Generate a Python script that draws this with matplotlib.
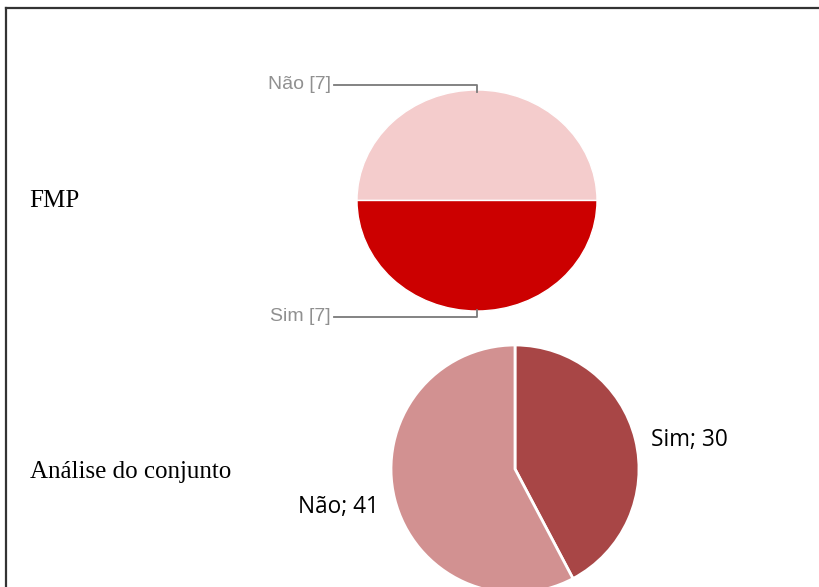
import matplotlib
matplotlib.use("Agg")
import matplotlib.pyplot as plt
from matplotlib.lines import Line2D

W, H = 819, 587

# Data
fmp_labels = ["Não", "Sim"]
fmp_values = [7, 7]
fmp_colors = ["#F4CCCC", "#CC0000"]

conj_labels = ["Sim", "Não"]
conj_values = [30, 41]
conj_colors = ["#A84646", "#D29191"]

row_titles = ["FMP", "Análise do conjunto"]

fig = plt.figure(figsize=(W / 100, H / 100), dpi=100)
fig.patch.set_facecolor("white")

def px_axes(x0, y0, x1, y1):
    return fig.add_axes([x0 / W, 1 - y1 / H, (x1 - x0) / W, (y1 - y0) / H])

# Overlay axes in pixel coordinates
ov = fig.add_axes([0, 0, 1, 1], zorder=5)
ov.set_xlim(0, W)
ov.set_ylim(H, 0)
ov.axis("off")
ov.patch.set_alpha(0)

# Border (top and left)
ov.add_line(Line2D([6, W], [7.5, 7.5], color="#333333", lw=1.6))
ov.add_line(Line2D([6, 6], [7.5, H], color="#333333", lw=1.6))

# Top pie (elliptical)
cx1, cy1, rx1, ry1 = 477, 200.5, 120, 110.5
ax1 = px_axes(cx1 - rx1, cy1 - ry1, cx1 + rx1, cy1 + ry1)
ax1.pie(fmp_values, colors=fmp_colors, startangle=0, counterclock=True,
        radius=1, wedgeprops=dict(edgecolor="white", linewidth=1.0))
ax1.set_xlim(-1, 1)
ax1.set_ylim(-1, 1)
ax1.set_aspect("auto")
ax1.axis("off")

# Leader lines and labels for the top pie
gray_line = "#7a7a7a"
gray_text = "#909090"
for lab, val, side in zip(fmp_labels, fmp_values, [-1, 1]):
    ty = cy1 + side * (ry1 + 5.5)
    edge = cy1 + side * (ry1 - 1.5)
    ov.add_line(Line2D([334, cx1, cx1], [ty, ty, edge], color=gray_line, lw=1.3))
    ov.text(331, ty, f"{lab} [{val}]", ha="right", va="center", color=gray_text,
            fontsize=14, family="Liberation Sans")

# Bottom pie
cx2, cy2, r2 = 515, 469, 124
ax2 = px_axes(cx2 - r2, cy2 - r2, cx2 + r2, cy2 + r2)
ax2.pie(conj_values, colors=conj_colors, startangle=90, counterclock=False,
        radius=1, wedgeprops=dict(edgecolor="white", linewidth=2.0))
ax2.set_xlim(-1, 1)
ax2.set_ylim(-1, 1)
ax2.set_aspect("auto")
ax2.axis("off")

ov.text(689, 440, f"{conj_labels[0]}; {conj_values[0]}", ha="center", va="center",
        fontsize=16.3, family="Open Sans", color="black")
ov.text(338.5, 507, f"{conj_labels[1]}; {conj_values[1]}", ha="center", va="center",
        fontsize=16.3, family="Open Sans", color="black")

# Row titles
ov.text(29.5, 201, row_titles[0], ha="left", va="center", fontsize=18,
        family="Liberation Serif", color="black")
ov.text(29.5, 472, row_titles[1], ha="left", va="center", fontsize=18,
        family="Liberation Serif", color="black")

fig.savefig("out.png", dpi=100)
